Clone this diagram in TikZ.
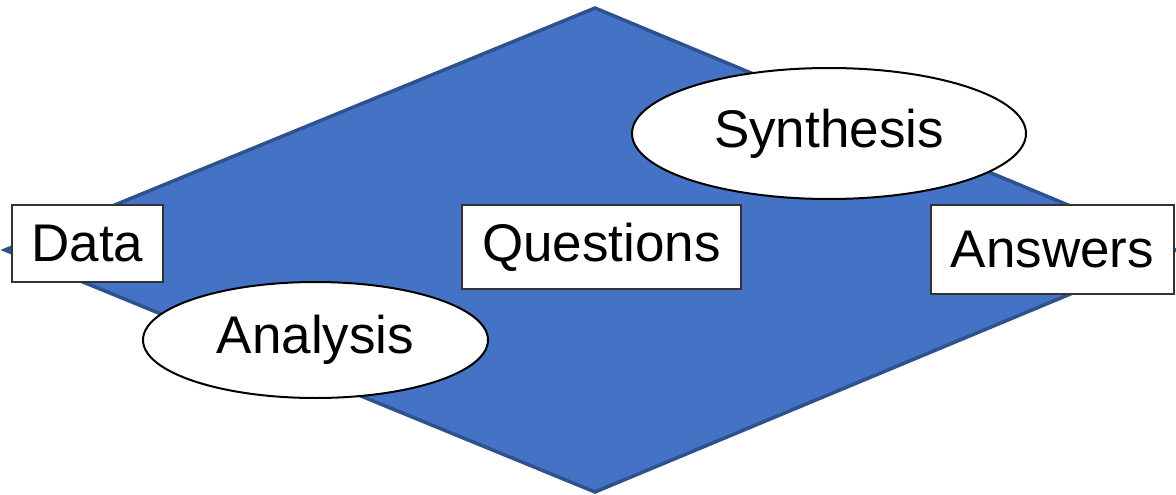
\documentclass[tikz,border=0pt]{standalone}
\usepackage{fontspec}
\setmainfont{Liberation Sans}
\usepackage{xcolor}
\usepackage{tikz}
\usetikzlibrary{shapes,calc}

\definecolor{rhombfill}{HTML}{4472C4}
\definecolor{rhombline}{HTML}{2F528F}

\tikzset{
  box/.style={rectangle, draw=black!80, line width=1.4pt, fill=white, inner sep=0pt, font=\fontsize{53}{62}\selectfont},
  oval/.style={ellipse, draw=black, line width=2pt, fill=white, inner sep=0pt, font=\fontsize{53}{62}\selectfont}
}

\begin{document}
\begin{tikzpicture}[x=1pt, y=-1pt]

\clip (0,0) rectangle (1176,495);

% the big rhombus behind
\coordinate (west) at (5,250);
\coordinate (north) at (595,8);
\coordinate (east) at (1176,250);
\coordinate (south) at (595,492);
\draw[fill=rhombfill, draw=rhombline, line width=3.5pt, line join=miter] (west) -- (north) -- (east) -- (south) -- cycle;

\node[box, minimum width=151pt, minimum height=77pt] (data) at (87.5,243.5) {Data};

\node[box, minimum width=279pt, minimum height=84pt] (questions) at (601.5,247) {Questions};

\node[box, minimum width=243pt, minimum height=89pt] (answers) at (1052.5,249.5) {Answers};

\node[oval, minimum width=394pt, minimum height=131pt] (synthesis) at (829,133.5) {Synthesis};

\node[oval, minimum width=345pt, minimum height=116pt] (analysis) at (315.5,340) {Analysis};

\end{tikzpicture}
\end{document}
